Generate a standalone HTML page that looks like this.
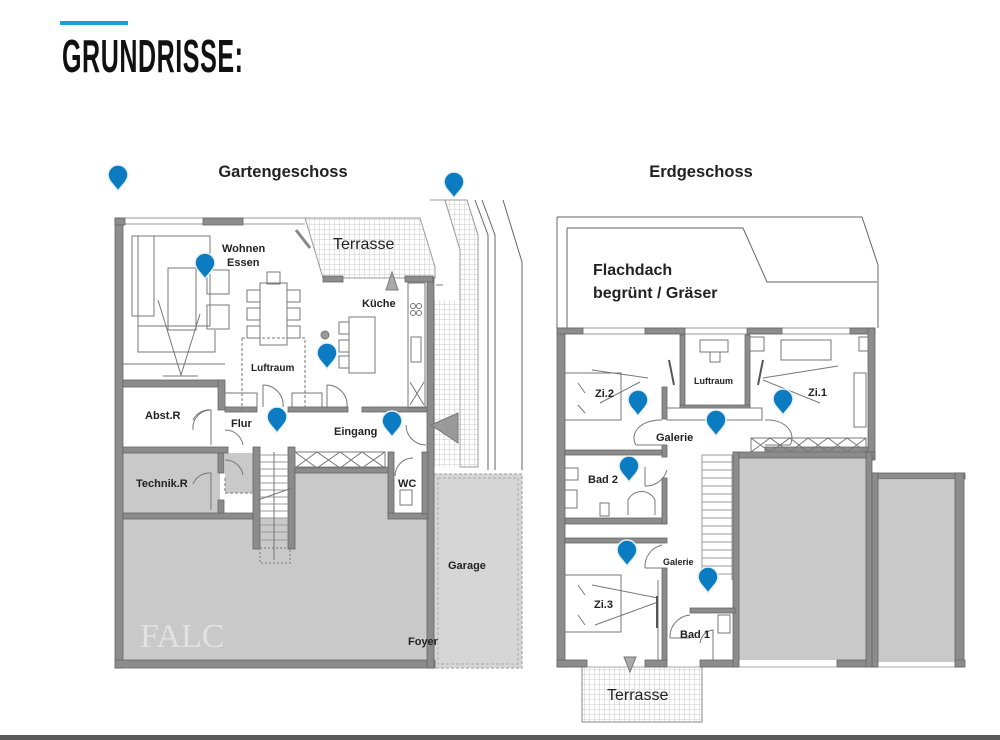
<!DOCTYPE html>
<html><head><meta charset="utf-8"><style>
html,body{margin:0;padding:0;background:#fff;}
body{width:1000px;height:740px;position:relative;overflow:hidden;font-family:"Liberation Sans",sans-serif;}
.title{position:absolute;left:62px;top:32px;font-family:"Liberation Sans Narrow","Liberation Sans",sans-serif;font-weight:bold;font-size:46px;line-height:48px;color:#111;transform:scaleX(0.545);transform-origin:0 0;letter-spacing:1px;}
</style></head><body>
<div style="position:absolute;left:60px;top:21px;width:68px;height:4px;background:#1aa0db"></div>
<div class="title">GRUNDRISSE:</div>
<div style="position:absolute;left:0;top:735px;width:1000px;height:5px;background:#5a5a5a"></div>
<svg width="1000" height="740" style="position:absolute;left:0;top:0" xmlns="http://www.w3.org/2000/svg">
<defs>
<pattern id="g" width="5" height="5" patternUnits="userSpaceOnUse"><path d="M5 0V5M0 5H5" stroke="#bdbdbd" stroke-width="0.8" fill="none"/></pattern>
<g id="pin"><path d="M0 14 C-4 8 -10 4 -10 -2 A10 10 0 1 1 10 -2 C10 4 4 8 0 14Z" fill="#0b7cc2" stroke="#e8f0f6" stroke-width="1.5"/></g>
</defs>
<g font-family="Liberation Sans,sans-serif" font-weight="bold" fill="#222">
<text x="283" y="177" font-size="16.5" text-anchor="middle">Gartengeschoss</text>
<text x="701" y="177" font-size="16.5" text-anchor="middle">Erdgeschoss</text>
</g>
<!-- LEFT PLAN -->
<g stroke="#666" fill="none" stroke-width="1">
<path d="M430 200 L445 200 L460 250 L460 467 L478 467 L478 235 L467 200Z" fill="url(#g)" stroke="#999"/>
<path d="M475 200 L488 235 L488 470 M482 200 L495 235 L495 470 M503 200 L522 262 L522 470"/>
<path d="M305 218 L420 218 L435 267 L435 278 L323 278Z" fill="url(#g)" stroke="#999"/>
<path d="M433 300 L460 300 L460 467 L433 467Z" fill="url(#g)" stroke="none"/>
<rect x="434" y="474" width="88" height="194" fill="#d6d6d6" stroke="#999" stroke-dasharray="3,2"/>
<rect x="438" y="478" width="80" height="186" fill="none" stroke="#aaa" stroke-dasharray="3,2"/>
<path d="M115 218 H305 M115 224 H305" stroke="#999"/>
</g>
<g fill="#c9c9c9">
<rect x="123" y="518" width="304" height="142"/>
<rect x="295" y="470" width="95" height="50"/>
<rect x="123" y="453" width="97" height="60"/>
<rect x="225" y="453" width="30" height="40"/>
</g>
<g fill="#8c8c8c" stroke="#666" stroke-width="0.8">
<rect x="115" y="218" width="8" height="450"/>
<rect x="115" y="660" width="320" height="8"/>
<rect x="115" y="218" width="10" height="7"/>
<rect x="203" y="218" width="40" height="7"/>
<rect x="427" y="277" width="7" height="391"/>
<rect x="323" y="276" width="20" height="6"/>
<rect x="405" y="276" width="28" height="6"/>
<rect x="123" y="380" width="100" height="7"/>
<rect x="218" y="380" width="7" height="30"/>
<rect x="123" y="447" width="105" height="6"/>
<rect x="123" y="513" width="130" height="6"/>
<rect x="218" y="453" width="6" height="20"/>
<rect x="218" y="500" width="6" height="13"/>
<rect x="253" y="447" width="7" height="102"/>
<rect x="288" y="447" width="7" height="102"/>
<rect x="295" y="467" width="93" height="6"/>
<rect x="388" y="452" width="6" height="65"/>
<rect x="388" y="513" width="40" height="6"/>
<rect x="225" y="407" width="32" height="5"/>
<rect x="288" y="407" width="60" height="5"/>
<rect x="362" y="407" width="65" height="5"/>
<rect x="422" y="452" width="6" height="62"/>
</g>
<g stroke="#777" fill="none" stroke-width="1">
<rect x="138" y="236" width="72" height="90"/>
<rect x="132" y="236" width="22" height="80"/>
<rect x="168" y="268" width="28" height="62"/>
<rect x="207" y="270" width="22" height="24"/><rect x="207" y="305" width="22" height="24"/>
<path d="M138 326 L138 352 L215 352 L215 330"/>
<path d="M158 300 L181 375 L200 314 M163 376 H198"/>
<path d="M123 364 H225"/>
<rect x="260" y="283" width="27" height="62"/><rect x="267" y="272" width="13" height="12"/>
<rect x="247" y="290" width="13" height="12"/><rect x="247" y="308" width="13" height="12"/><rect x="247" y="326" width="13" height="12"/>
<rect x="287" y="290" width="13" height="12"/><rect x="287" y="308" width="13" height="12"/><rect x="287" y="326" width="13" height="12"/>
<rect x="349" y="317" width="26" height="56"/>
<rect x="339" y="322" width="10" height="12"/><rect x="339" y="340" width="10" height="12"/><rect x="339" y="356" width="10" height="12"/>
<circle cx="325" cy="335" r="4" fill="#999"/>
<rect x="408" y="283" width="17" height="125"/>
<path d="M410 382 L424 405 M424 382 L410 405"/>
<rect x="411" y="337" width="10" height="25"/>
<circle cx="413" cy="306" r="2.5"/><circle cx="419" cy="306" r="2.5"/><circle cx="413" cy="313" r="2.5"/><circle cx="419" cy="313" r="2.5"/>
<path d="M242 338 H305 V410 M242 338 V410" stroke-dasharray="3,2"/>
<rect x="225" y="393" width="32" height="14"/><rect x="292" y="393" width="30" height="14"/>
<path d="M263 385 A20 20 0 0 1 283 407 M263 385 V407"/>
<path d="M327 385 A20 20 0 0 1 347 407 M327 385 V407"/>
<path d="M193 420 A18 18 0 0 1 211 410 V445 M211 410 A18 18 0 0 0 193 430"/>
<path d="M225 430 A18 18 0 0 1 243 445"/>
<path d="M193 484 A18 18 0 0 1 211 473 V510 M225 460 A18 18 0 0 1 243 475"/>
<path d="M406 425 A20 20 0 0 0 426 445"/>
<path d="M395 476 A18 18 0 0 1 413 458"/>
<rect x="400" y="490" width="12" height="15"/>
<path d="M295 452 H385 V468 H295Z M295 452 L317 468 L340 452 L362 468 L385 452 M295 468 L317 452 L340 468 L362 452 L385 468"/>
<path d="M260 455 H288 M260 462 H288 M260 469 H288 M260 476 H288 M260 483 H288 M260 490 H288 M260 497 H288 M260 504 H288 M260 511 H288 M260 518 H288 M260 525 H288 M260 532 H288 M260 540 H288" stroke="#999"/>
<path d="M258 500 L292 488 M274 452 V560" stroke="#777"/>
<rect x="260" y="548" width="30" height="15" stroke-dasharray="2,2"/>
<path d="M225 478 V493 H252" stroke-dasharray="3,2"/>
<path d="M436 285 L443 285"/>
<polygon points="431,425 458,413 458,443" fill="#999" stroke="#777"/>
<polygon points="392,272 386,290 398,290" fill="#aaa"/>
<path d="M296 230 L310 248" stroke="#888" stroke-width="3"/>
</g>
<text x="140" y="647" font-family="Liberation Serif,serif" font-size="34" fill="#e2e2e2">FALC</text>
<g font-family="Liberation Sans,sans-serif" font-weight="bold" fill="#222" font-size="11">
<text x="222" y="252">Wohnen</text><text x="227" y="266">Essen</text>
<text x="333" y="249" font-size="16" font-weight="normal">Terrasse</text>
<text x="362" y="307">Küche</text>
<text x="251" y="371" font-size="10">Luftraum</text>
<text x="145" y="419">Abst.R</text>
<text x="231" y="427">Flur</text>
<text x="334" y="435">Eingang</text>
<text x="136" y="487">Technik.R</text>
<text x="398" y="487">WC</text>
<text x="448" y="569">Garage</text>
<text x="408" y="645">Foyer</text>
</g>
<!-- RIGHT PLAN -->
<g stroke="#666" fill="none" stroke-width="1">
<path d="M557 217 H862 L878 265 V328 M557 217 V328"/>
<path d="M567 228 H743 L767 282 H877 M567 228 V328"/>
<rect x="582" y="667" width="120" height="55" fill="url(#g)" stroke="#888"/>
<path d="M557 328 H875 M557 334 H875" stroke="#999"/>
<path d="M557 667 H965" stroke="#aaa"/>
</g>
<g fill="#c9c9c9"><rect x="738" y="458" width="130" height="202"/><rect x="877" y="480" width="78" height="182"/></g>
<g fill="#8c8c8c" stroke="#666" stroke-width="0.8">
<rect x="557" y="328" width="8" height="339"/>
<rect x="557" y="328" width="26" height="6"/><rect x="645" y="328" width="40" height="6"/><rect x="747" y="328" width="35" height="6"/><rect x="850" y="328" width="25" height="6"/>
<rect x="868" y="328" width="7" height="132"/>
<rect x="557" y="660" width="30" height="7"/><rect x="645" y="660" width="22" height="7"/><rect x="700" y="660" width="38" height="7"/><rect x="837" y="660" width="40" height="7"/>
<rect x="733" y="452" width="142" height="6"/><rect x="733" y="452" width="6" height="215"/><rect x="866" y="452" width="6" height="215"/>
<rect x="872" y="473" width="93" height="6"/><rect x="872" y="473" width="6" height="194"/><rect x="955" y="473" width="9" height="194"/><rect x="955" y="660" width="10" height="7"/>
<rect x="565" y="450" width="97" height="5"/><rect x="662" y="445" width="5" height="12"/>
<rect x="565" y="518" width="102" height="6"/><rect x="662" y="478" width="5" height="46"/>
<rect x="565" y="538" width="102" height="5"/><rect x="662" y="568" width="5" height="92"/>
<rect x="662" y="387" width="5" height="32"/><rect x="680" y="335" width="5" height="72"/><rect x="745" y="335" width="5" height="72"/><rect x="680" y="405" width="70" height="3"/>
<rect x="765" y="447" width="103" height="5"/>
<rect x="690" y="608" width="45" height="5"/>
</g>
<g stroke="#777" fill="none" stroke-width="1">
<rect x="565" y="373" width="56" height="47"/><path d="M578 383 L585 393 M578 405 L585 413 M592 370 L648 378 M600 403 L640 382"/>
<rect x="854" y="373" width="12" height="54"/><rect x="781" y="340" width="50" height="20"/><path d="M763 378 L838 366 M763 380 L820 403"/>
<rect x="700" y="340" width="28" height="12"/><rect x="710" y="352" width="10" height="10"/>
<rect x="750" y="337" width="14" height="14"/><rect x="859" y="337" width="9" height="14"/>
<path d="M669 360 L674 385 M763 360 L758 385" stroke="#555" stroke-width="2"/>
<rect x="667" y="408" width="95" height="12"/>
<path d="M636 445 A26 18 0 0 1 662 420 M765 420 A24 18 0 0 1 790 445 M636 445 H662 M765 445 H790"/>
<path d="M667 470 A22 22 0 0 1 645 486 M645 486 V467"/>
<rect x="565" y="468" width="13" height="12"/><rect x="565" y="490" width="12" height="18"/>
<path d="M628 515 V500 A15 15 0 0 1 655 500 V515" /><rect x="600" y="503" width="9" height="13"/>
<path d="M662 545 A22 22 0 0 0 645 568 M645 568 H662"/>
<rect x="565" y="575" width="56" height="57"/><path d="M578 585 L585 595 M578 615 L585 625 M592 585 L658 598 M595 625 L658 602"/>
<path d="M658 580 V660"/><path d="M657 596 V628" stroke="#555" stroke-width="2"/>
<path d="M670 638 A22 22 0 0 1 690 615 M670 638 H690"/>
<path d="M700 643 A15 15 0 0 1 713 630 V660"/><rect x="718" y="615" width="12" height="18"/>
<path d="M702 455 H732 M702 455 V580 M732 455 V580 M702 462 H732 M702 470 H732 M702 478 H732 M702 486 H732 M702 494 H732 M702 502 H732 M702 510 H732 M702 518 H732 M702 526 H732 M702 534 H732 M702 542 H732 M702 550 H732 M702 558 H732 M702 566 H732 M702 574 H732" stroke="#999"/>
<path d="M751 438 H866 V452 H751Z M751 438 L770 452 L790 438 L808 452 L828 438 L847 452 L866 438 M751 452 L770 438 L790 452 L808 438 L828 452 L847 438 L866 452"/>
<polygon points="624,657 636,657 630,672" fill="#aaa"/>
</g>
<g font-family="Liberation Sans,sans-serif" font-weight="bold" fill="#222" font-size="11">
<text x="593" y="275" font-size="16">Flachdach</text>
<text x="593" y="298" font-size="16">begrünt / Gräser</text>
<text x="694" y="384" font-size="9">Luftraum</text>
<text x="595" y="397">Zi.2</text>
<text x="808" y="396">Zi.1</text>
<text x="656" y="441">Galerie</text>
<text x="588" y="483">Bad 2</text>
<text x="663" y="565" font-size="9">Galerie</text>
<text x="594" y="608">Zi.3</text>
<text x="680" y="638">Bad 1</text>
<text x="607" y="700" font-size="16" font-weight="normal">Terrasse</text>
</g>
<use href="#pin" x="118" y="177"/>
<use href="#pin" x="454" y="184"/>
<use href="#pin" x="205" y="265"/>
<use href="#pin" x="327" y="355"/>
<use href="#pin" x="277" y="419"/>
<use href="#pin" x="392" y="423"/>
<use href="#pin" x="638" y="402"/>
<use href="#pin" x="783" y="401"/>
<use href="#pin" x="716" y="422"/>
<use href="#pin" x="629" y="468"/>
<use href="#pin" x="627" y="552"/>
<use href="#pin" x="708" y="579"/>
</svg>
</body></html>
